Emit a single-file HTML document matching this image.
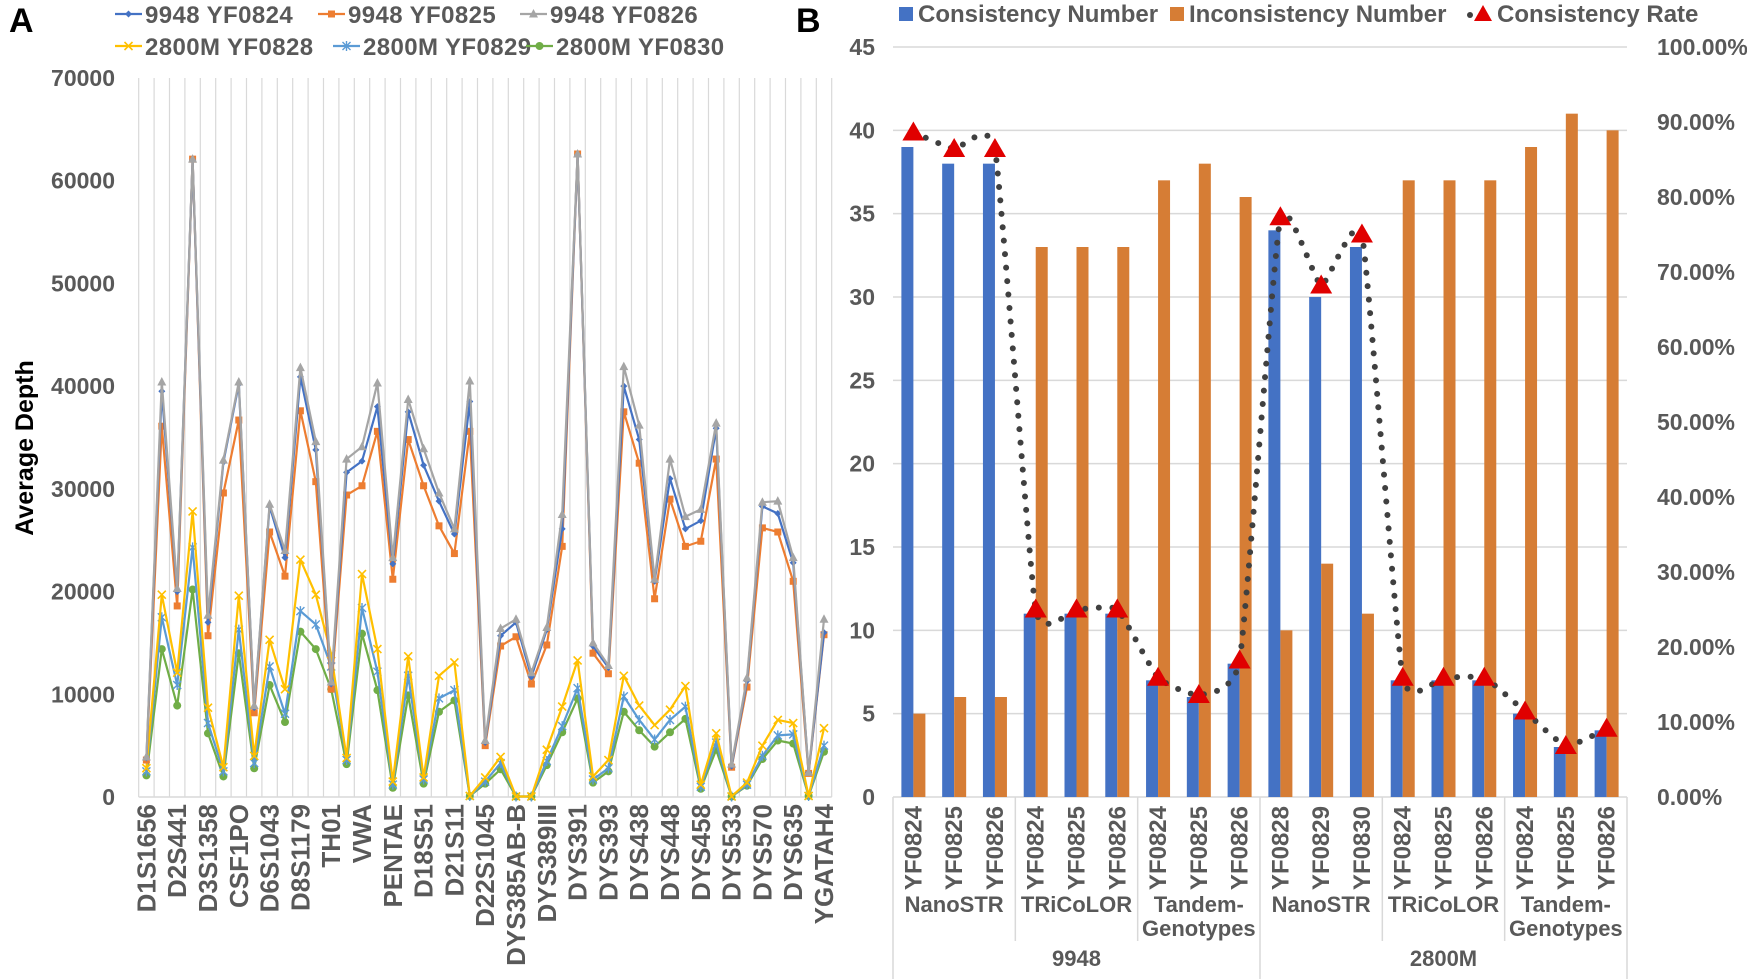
<!DOCTYPE html>
<html><head><meta charset="utf-8"><style>
html,body{margin:0;padding:0;background:#fff;}
svg{display:block;font-family:"Liberation Sans",Arial,sans-serif;}
</style></head><body>
<svg id="fig" width="1747" height="979" viewBox="0 0 1747 979" xmlns="http://www.w3.org/2000/svg">
<rect width="1747" height="979" fill="#fff"/>
<g id="panelA"></g>
<g id="panelB"></g>
</svg>
<script>
// ===== Panel A data =====
const categoriesA = ["D1S1656","D2S1338","D2S441","D3S1358-x","D3S1358","D5S818","CSF1PO","D7S820","D6S1043","D10S1248","D8S1179","D12S391","TH01","D13S317","VWA","D16S539","PENTAE","D19S433","D18S51","FGA","D21S11","PENTAD","D22S1045","DYS385AB-A","DYS385AB-B","DYS389I","DYS389III","DYS390","DYS391","DYS392","DYS393","DYS437","DYS438","DYS439","DYS448","DYS456","DYS458","DYS481","DYS533","DYS549","DYS570","DYS576","DYS635","DYS643","YGATAH4"];
const seriesNamesA = ["9948 YF0824","9948 YF0825","9948 YF0826","2800M YF0828","2800M YF0829","2800M YF0830"];
const yf0824 = [3.8,39.5,20.0,62.0,17.0,32.6,40.2,8.7,28.3,23.3,40.9,33.8,11.0,31.6,32.7,38.0,22.7,37.5,32.3,28.8,25.6,38.5,5.3,15.7,17.0,11.7,16.3,26.1,62.5,14.7,12.6,40.0,34.8,21.0,31.0,26.1,26.9,35.9,3.0,11.3,28.3,27.6,22.8,2.4,16.0];
const yf0825 = [3.6,36.1,18.6,62.1,15.7,29.6,36.7,8.2,25.8,21.5,37.6,30.7,10.5,29.4,30.3,35.6,21.2,34.8,30.3,26.4,23.7,35.6,5.0,14.7,15.6,11.0,14.8,24.4,62.6,14.0,12.0,37.5,32.5,19.3,29.0,24.4,24.9,32.9,2.9,10.7,26.2,25.8,21.0,2.3,15.8];
const yf0826 = [3.9,40.4,20.3,62.1,17.7,32.8,40.4,8.9,28.5,24.0,41.8,34.6,11.2,32.9,34.1,40.3,23.3,38.7,33.9,29.6,26.1,40.5,5.5,16.4,17.3,12.1,16.5,27.5,62.6,15.0,12.8,41.9,36.2,21.2,32.9,27.3,28.0,36.4,3.2,11.6,28.7,28.8,23.3,2.4,17.3];
const yf0828 = [2.8,19.7,12.1,27.8,8.7,2.9,19.6,4.0,15.3,10.5,23.1,19.7,13.9,3.8,21.7,14.4,1.5,13.7,1.9,11.8,13.1,0.1,1.9,3.9,0.05,0.05,4.6,8.8,13.3,2.0,3.6,11.8,8.9,7.0,8.5,10.8,1.2,6.2,0.05,1.4,5.0,7.5,7.2,0.1,6.7];
const yf0829 = [2.5,17.5,10.9,24.3,7.2,2.5,16.3,3.3,12.7,8.1,18.1,16.8,12.7,3.6,18.4,12.2,1.2,11.8,1.7,9.6,10.4,0.1,1.5,3.3,0.05,0.05,3.5,6.9,10.6,1.7,2.8,9.8,7.5,5.6,7.5,8.8,1.0,5.3,0.05,1.2,4.0,6.0,6.1,0.1,5.0];
const yf0830 = [2.1,14.4,8.9,20.2,6.2,2.0,14.0,2.8,10.9,7.3,16.1,14.4,10.5,3.2,15.9,10.4,0.9,9.9,1.3,8.3,9.4,0.1,1.3,2.7,0.05,0.05,3.1,6.3,9.6,1.4,2.5,8.3,6.5,4.9,6.3,7.6,0.8,4.6,0.05,1.1,3.7,5.5,5.2,0.1,4.4];
const yTicksA = [0,10000,20000,30000,40000,50000,60000,70000];

// ===== Panel B data =====
const groupsB = ["NanoSTR","TRiCoLOR","Tandem-Genotypes","NanoSTR","TRiCoLOR","Tandem-Genotypes"];
const samplesB = ["9948","2800M"];
const categoriesB = ["YF0824","YF0825","YF0826","YF0824","YF0825","YF0826","YF0824","YF0825","YF0826","YF0828","YF0829","YF0830","YF0824","YF0825","YF0826","YF0824","YF0825","YF0826"];
const consistency = [39,38,38,11,11,11,7,6,8,34,30,33,7,7,7,5,3,4];
const inconsistency = [5,6,6,33,33,33,37,38,36,10,14,11,37,37,37,39,41,40];
const rate = [88.6,86.4,86.4,25.0,25.0,25.0,15.9,13.6,18.2,77.3,68.2,75.0,15.9,15.9,15.9,11.4,6.8,9.1];
const leftTicksB = [0,5,10,15,20,25,30,35,40,45];
const rightTicksB = [0,10,20,30,40,50,60,70,80,90,100];

const NS="http://www.w3.org/2000/svg";
function mk(tag, attrs, parent, txt){
  const e=document.createElementNS(NS,tag);
  for(const k in attrs) e.setAttribute(k,attrs[k]);
  if(txt!==undefined) e.textContent=txt;
  parent.appendChild(e); return e;
}
const GRAY="#595959";

// ---------- Panel A ----------
const A=document.getElementById('panelA');
const aL=138.7, aStep=15.4, aTop=78, aBot=797, aMax=70000;
const xA=i=>aL+aStep*(i+0.5);
const yA=v=>aBot-v/aMax*(aBot-aTop);
const aR=aL+aStep*categoriesA.length;

let t=mk('text',{x:9,y:32,'font-size':34,'font-weight':'bold',fill:'#000'},A,'A');



for(let i=0;i<=categoriesA.length;i++){
  const g=mk('line',{x1:aL+aStep*i,x2:aL+aStep*i,y1:aTop,y2:aBot,stroke:'#d9d9d9','stroke-width':1.2},A);
  
  
}
let ax=mk('line',{x1:aL,x2:aR,y1:aBot,y2:aBot,stroke:'#d9d9d9','stroke-width':1.5},A);



yTicksA.forEach(v=>{
  const e=mk('text',{x:115,y:yA(v)+8,'text-anchor':'end','font-size':23,'font-weight':'bold',fill:GRAY},A,String(v));
  
  
});
t=mk('text',{transform:'translate(33,448) rotate(-90)','text-anchor':'middle','font-size':25,'font-weight':'bold',fill:'#000'},A,'Average Depth');



categoriesA.forEach((c,i)=>{
  if(i%2) return;
  const e=mk('text',{transform:`translate(${xA(i)+9},804) rotate(-90)`,'text-anchor':'end','font-size':26,'font-weight':'bold',fill:GRAY},A,c);
  
  
});

const colorsA=["#4472C4","#ED7D31","#A5A5A5","#FFC000","#5B9BD5","#70AD47"];
const markersA=["diamond","square","triangle","x","star","circle"];
const dataA=[yf0824,yf0825,yf0826,yf0828,yf0829,yf0830];
function marker(parent,type,x,y,c){
  let e;
  if(type==="diamond") e=mk('path',{d:`M${x} ${y-3.5}L${x+3.5} ${y}L${x} ${y+3.5}L${x-3.5} ${y}Z`,fill:c},parent);
  else if(type==="square") e=mk('rect',{x:x-3.5,y:y-3.5,width:7,height:7,fill:c},parent);
  else if(type==="triangle") e=mk('path',{d:`M${x} ${y-5}L${x+4.5} ${y+3.5}L${x-4.5} ${y+3.5}Z`,fill:c},parent);
  else if(type==="x") e=mk('path',{d:`M${x-4} ${y-4}L${x+4} ${y+4}M${x+4} ${y-4}L${x-4} ${y+4}`,stroke:c,'stroke-width':1.6,fill:'none'},parent);
  else if(type==="star") e=mk('path',{d:`M${x-4} ${y-4}L${x+4} ${y+4}M${x+4} ${y-4}L${x-4} ${y+4}M${x} ${y-5}L${x} ${y+5}`,stroke:c,'stroke-width':1.4,fill:'none'},parent);
  else e=mk('circle',{cx:x,cy:y,r:4,fill:c},parent);
  return e;
}
[5,4,3,1,0,2].forEach(s=>{
  const g=mk('g',{},A);
  
  
  const pts=dataA[s].map((v,i)=>[xA(i),yA(v*1000)]);
  const ln=mk('polyline',{points:pts.map(p=>p.join(',')).join(' '),fill:'none',stroke:colorsA[s],'stroke-width':2.2,'stroke-linejoin':'round'},g);
  
  
  pts.forEach(p=>{
    const m=marker(g,markersA[s],p[0],p[1],colorsA[s]);
    
    
  });
});

// legend A
const legA=mk('g',{},A);


const legPos=[[115,14],[318,14],[520,14],[115,46],[333,46],[526,46]];
seriesNamesA.forEach((n,s)=>{
  const [lx,ly]=legPos[s];
  const g=mk('g',{},legA);
  
  
  mk('line',{x1:lx,x2:lx+27,y1:ly,y2:ly,stroke:colorsA[s],'stroke-width':2.2},g);
  marker(g,markersA[s],lx+13.5,ly,colorsA[s]);
  mk('text',{x:lx+30,y:ly+9,'font-size':24,'font-weight':'bold',fill:GRAY,'letter-spacing':'0.4'},g,n);
});

// ---------- Panel B ----------
const B=document.getElementById('panelB');
const bL=893, bR=1627, bTop=47, bBot=797, bMax=45;
const bStep=(bR-bL)/categoriesB.length;
const xB=j=>bL+bStep*(j+0.5);
const yB=v=>bBot-v/bMax*(bBot-bTop);
const yR=p=>bBot-p/100*(bBot-bTop);

t=mk('text',{x:796,y:32,'font-size':34,'font-weight':'bold',fill:'#000'},B,'B');



leftTicksB.forEach(v=>{
  const g=mk('line',{x1:bL,x2:bR,y1:yB(v),y2:yB(v),stroke:'#d9d9d9','stroke-width':1.5},B);
  
  
  const e=mk('text',{x:875,y:yB(v)+8,'text-anchor':'end','font-size':23,'font-weight':'bold',fill:GRAY},B,String(v));
  
  
});
rightTicksB.forEach(p=>{
  const e=mk('text',{x:1657,y:yR(p)+8,'font-size':23,'font-weight':'bold',fill:GRAY},B,p.toFixed(2)+'%');
  
  
});

categoriesB.forEach((c,j)=>{
  const xc=xB(j);
  const b1=mk('rect',{x:xc-12,y:yB(consistency[j]),width:12,height:bBot-yB(consistency[j]),fill:'#4472C4'},B);
  
  
  const b2=mk('rect',{x:xc,y:yB(inconsistency[j]),width:12,height:bBot-yB(inconsistency[j]),fill:'#D67D35'},B);
  
  
  const e=mk('text',{transform:`translate(${xc+8},806) rotate(-90)`,'text-anchor':'end','font-size':24,'font-weight':'bold',fill:GRAY},B,c);
  
  
});

// smooth dotted rate line
const rp=rate.map((p,j)=>[xB(j),yR(p)]);
let d=`M${rp[0][0]} ${rp[0][1]}`;
for(let k=0;k<rp.length-1;k++){
  const p0=rp[Math.max(k-1,0)],p1=rp[k],p2=rp[k+1],p3=rp[Math.min(k+2,rp.length-1)];
  const tt=0.07;
  d+=`C${p1[0]+(p2[0]-p0[0])*tt} ${p1[1]+(p2[1]-p0[1])*tt} ${p2[0]-(p3[0]-p1[0])*tt} ${p2[1]-(p3[1]-p1[1])*tt} ${p2[0]} ${p2[1]}`;
}
const rl=mk('path',{d:d,fill:'none',stroke:'#404040','stroke-width':6,'stroke-linecap':'round','stroke-dasharray':'0 13.5'},B);


rp.forEach(p=>{
  const tr=mk('path',{d:`M${p[0]} ${p[1]-11}L${p[0]+11} ${p[1]+8}L${p[0]-11} ${p[1]+8}Z`,fill:'#E00000'},B);
  
  
});

// category table
for(let k=0;k<=6;k++){
  const x=bL+bStep*3*k;
  const outer=(k%3===0);
  const ln=mk('line',{x1:x,x2:x,y1:bBot,y2:outer?979:941,stroke:'#d9d9d9','stroke-width':1.5},B);
  
  
}
groupsB.forEach((g,k)=>{
  const xc=bL+bStep*(3*k+1.5);
  if(g==="Tandem-Genotypes"){
    let e=mk('text',{x:xc,y:912,'text-anchor':'middle','font-size':22,'font-weight':'bold',fill:GRAY},B,'Tandem-');
    
    
    e=mk('text',{x:xc,y:936,'text-anchor':'middle','font-size':22,'font-weight':'bold',fill:GRAY},B,'Genotypes');
    
    
  } else {
    const e=mk('text',{x:xc,y:912,'text-anchor':'middle','font-size':22,'font-weight':'bold',fill:GRAY},B,g);
    
    
  }
});
samplesB.forEach((s,k)=>{
  const xc=bL+bStep*(9*k+4.5);
  const e=mk('text',{x:xc,y:966,'text-anchor':'middle','font-size':22,'font-weight':'bold',fill:GRAY},B,s);
  
  
});

// legend B
const legB=mk('g',{},B);


let g1=mk('g',{},legB);


mk('rect',{x:899,y:7,width:14,height:14,fill:'#4472C4'},g1);
mk('text',{x:918,y:22,'font-size':24,'font-weight':'bold',fill:GRAY},g1,'Consistency Number');
let g2=mk('g',{},legB);


mk('rect',{x:1170,y:7,width:14,height:14,fill:'#D67D35'},g2);
mk('text',{x:1189,y:22,'font-size':24,'font-weight':'bold',fill:GRAY},g2,'Inconsistency Number');
let g3=mk('g',{},legB);


mk('circle',{cx:1470,cy:15,r:3,fill:'#404040'},g3);
mk('path',{d:'M1483 5L1492 21L1474 21Z',fill:'#E00000'},g3);
mk('text',{x:1497,y:22,'font-size':24,'font-weight':'bold',fill:GRAY},g3,'Consistency Rate');
</script>
</body></html>
